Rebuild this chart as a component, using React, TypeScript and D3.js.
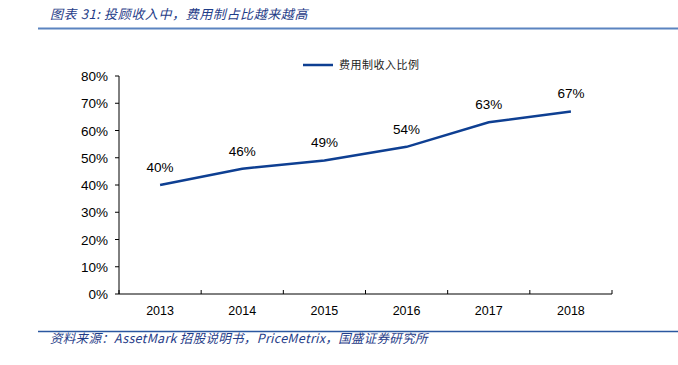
import React from "react";
import * as d3 from "d3";

const categories = ["2013", "2014", "2015", "2016", "2017", "2018"];
const values = [0.40, 0.46, 0.49, 0.54, 0.63, 0.67];
const valueLabels = ["40%", "46%", "49%", "54%", "63%", "67%"];
const yTicks = [0, 0.1, 0.2, 0.3, 0.4, 0.5, 0.6, 0.7, 0.8];
const seriesName = "费用制收入比例";
const title = "图表 31:  投顾收入中，费用制占比越来越高";
const source = "资料来源：AssetMark 招股说明书，PriceMetrix，国盛证券研究所";

export default function App() {
  const W = 678, H = 365;
  const left = 119, right = 612, top = 76, bottom = 294;
  const x = d3.scaleBand().domain(categories).range([left, right]);
  const y = d3.scaleLinear().domain([0, 0.8]).range([bottom, top]);
  const line = d3.line<number>()
    .x((_, i) => (x(categories[i]) as number) + x.bandwidth() / 2)
    .y((d) => y(d));
  const font = "'Liberation Sans', Arial, sans-serif";
  const cjk = "'Noto Sans CJK SC', sans-serif";
  const lineColor = "#0E3F92";
  return (
    <svg width={W} height={H} style={{ position: "absolute", left: 0, top: 0, background: "#fff" }}>
      <text x={50} y={19} fontFamily={cjk} fontSize={13} fontStyle="italic" fill="#1F3C88" letterSpacing={0.6}>{title}</text>
      <line x1={38} x2={678} y1={28.5} y2={28.5} stroke="#5B84C0" strokeWidth={2} />
      {/* legend */}
      <line x1={303} x2={333} y1={65} y2={65} stroke={lineColor} strokeWidth={2.5} />
      <text x={339} y={69} fontFamily={cjk} fontSize={11} fill="#222" letterSpacing={0.5}>{seriesName}</text>
      {/* y axis */}
      <line x1={left} x2={left} y1={top} y2={bottom} stroke="#000" strokeWidth={1} />
      {yTicks.map((t) => (
        <g key={t}>
          <line x1={left - 4} x2={left} y1={y(t)} y2={y(t)} stroke="#000" />
          <text x={108} y={y(t) + 5} textAnchor="end" fontFamily={font} fontSize={13.5} fill="#000">
            {d3.format(".0%")(t)}
          </text>
        </g>
      ))}
      {/* x axis */}
      <line x1={left} x2={right} y1={bottom} y2={bottom} stroke="#000" strokeWidth={1} />
      {[...categories.map((c) => x(c) as number), right].map((p, i) => (
        <line key={i} x1={p} x2={p} y1={bottom} y2={bottom - 4} stroke="#000" />
      ))}
      {categories.map((c) => (
        <text key={c} x={(x(c) as number) + x.bandwidth() / 2} y={315} textAnchor="middle"
          fontFamily={font} fontSize={12.5} fill="#000">{c}</text>
      ))}
      <path d={line(values) || ""} fill="none" stroke={lineColor} strokeWidth={2.5} />
      {values.map((v, i) => (
        <text key={i} x={(x(categories[i]) as number) + x.bandwidth() / 2} y={y(v) - 13}
          textAnchor="middle" fontFamily={font} fontSize={13.5} fill="#000">{valueLabels[i]}</text>
      ))}
      <line x1={38} x2={678} y1={331.5} y2={331.5} stroke="#2B57A0" strokeWidth={1.5} />
      <text x={50} y={343} fontFamily={cjk} fontSize={12.5} fontStyle="italic" fill="#1F3C88" letterSpacing={0.3}>{source}</text>
    </svg>
  );
}
